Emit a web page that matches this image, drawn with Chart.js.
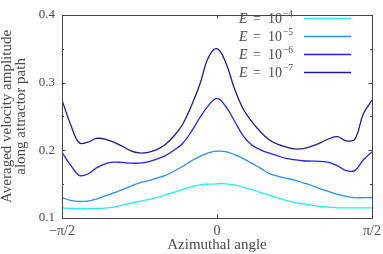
<!DOCTYPE html>
<html>
<head>
<meta charset="utf-8">
<script src="https://cdn.jsdelivr.net/npm/chart.js@4/dist/chart.umd.min.js"></script>
<style>
html,body{margin:0;padding:0;background:#fff;}
#wrap{width:383px;height:254px;position:relative;}
</style>
</head>
<body>
<div id="wrap"><canvas id="c" width="383" height="254"></canvas></div>
<script>
// Azimuthal angle in degrees (-90 = -pi/2, 90 = pi/2)
const angles = [-90,-85,-80,-75,-70,-65,-60,-55,-50,-45,-40,-35,-30,-25,-20,-15,-10,-5,0,5,10,15,20,25,30,35,40,45,50,55,60,65,70,75,80,85,90];
const seriesE4 = [0.115,0.114,0.1137,0.1137,0.114,0.1145,0.116,0.119,0.122,0.1245,0.127,0.130,0.134,0.138,0.142,0.146,0.149,0.150,0.1505,0.1505,0.149,0.1455,0.142,0.138,0.134,0.130,0.126,0.123,0.121,0.119,0.117,0.116,0.115,0.115,0.115,0.115,0.115];
const seriesE5 = [0.130,0.126,0.1245,0.125,0.128,0.1325,0.137,0.142,0.147,0.152,0.155,0.159,0.163,0.169,0.176,0.184,0.191,0.196,0.1986,0.198,0.194,0.188,0.181,0.174,0.166,0.162,0.159,0.156,0.152,0.148,0.143,0.139,0.135,0.132,0.130,0.130,0.130];
const seriesE6 = [0.197,0.178,0.163,0.165,0.174,0.180,0.1825,0.182,0.181,0.181,0.183,0.187,0.192,0.200,0.210,0.227,0.248,0.266,0.2765,0.265,0.244,0.222,0.208,0.201,0.196,0.192,0.188,0.186,0.1845,0.184,0.1835,0.182,0.177,0.170,0.170,0.186,0.1976];
const seriesE7 = [0.274,0.238,0.211,0.212,0.2175,0.2165,0.212,0.206,0.199,0.196,0.197,0.201,0.2085,0.221,0.238,0.265,0.297,0.337,0.350,0.330,0.292,0.262,0.243,0.228,0.216,0.209,0.205,0.202,0.2025,0.206,0.211,0.217,0.220,0.214,0.216,0.254,0.274];
const seriesExp = ['\u22124','\u22125','\u22126','\u22127'];
const seriesColors = ['#22eeee','#2a8ff0','#2424ee','#1c1c8c'];
const xTickValues = [-90,0,90];
const xTickLabels = ['\u2212\u03c0/2','0','\u03c0/2'];
const yTickValues = [0.1,0.2,0.3,0.4];
const yTickLabels = ['0.1','0.2','0.3','0.4'];
const yMinorValues = [0.15,0.25,0.35];

const FONT = '"Liberation Serif", "DejaVu Serif", serif';
const TXT = '#4a4a4a';
const AX = '#444444';

const allSeries = [seriesE4, seriesE5, seriesE6, seriesE7];
const datasets = allSeries.map((s, i) => ({
  label: 'E = 10^' + seriesExp[i],
  data: angles.map((a, j) => ({x: a, y: s[j]})),
  borderColor: seriesColors[i],
  borderWidth: 1.3,
  pointRadius: 0,
  tension: 0.4,
  fill: false
}));

const framePlugin = {
  id: 'frame',
  afterDraw(chart) {
    const ctx = chart.ctx;
    const a = chart.chartArea;
    const xs = chart.scales.x, ys = chart.scales.y;
    ctx.save();
    ctx.strokeStyle = AX;
    ctx.lineWidth = 1;
    ctx.strokeRect(Math.round(a.left) + 0.5, Math.round(a.top) + 0.5, Math.round(a.right - a.left), Math.round(a.bottom - a.top));
    ctx.beginPath();
    const major = 3.5, minor = 2;
    yTickValues.concat(yMinorValues).forEach(v => {
      const y = Math.round(ys.getPixelForValue(v)) + 0.5;
      const L = yMinorValues.includes(v) ? minor : major;
      ctx.moveTo(a.left, y); ctx.lineTo(a.left + L, y);
      ctx.moveTo(a.right, y); ctx.lineTo(a.right - L, y);
    });
    xTickValues.forEach(v => {
      const x = Math.round(xs.getPixelForValue(v)) + 0.5;
      ctx.moveTo(x, a.bottom); ctx.lineTo(x, a.bottom - major);
      ctx.moveTo(x, a.top); ctx.lineTo(x, a.top + major);
    });
    ctx.stroke();

    // legend (text first, then line sample)
    ctx.textBaseline = 'alphabetic';
    chart.data.datasets.forEach((ds, i) => {
      const cy = 18 + i * 18;
      const base = cy + 4.5;
      ctx.fillStyle = TXT;
      ctx.textAlign = 'left';
      ctx.font = 'italic 14px ' + FONT;
      ctx.fillText('E', 239, base);
      ctx.font = '14px ' + FONT;
      ctx.fillText('=', 253, base);
      ctx.fillText('10', 268, base);
      ctx.font = '9.5px ' + FONT;
      ctx.fillText(seriesExp[i], 283, base - 6);
      ctx.strokeStyle = ds.borderColor;
      ctx.lineWidth = 1.3;
      ctx.beginPath();
      ctx.moveTo(304, cy + 0.5); ctx.lineTo(351, cy + 0.5);
      ctx.stroke();
    });
    ctx.restore();
  }
};

new Chart(document.getElementById('c'), {
  type: 'line',
  data: { datasets },
  options: {
    responsive: false,
    animation: false,
    devicePixelRatio: 1,
    layout: { padding: { top: 6, right: 11, left: 0, bottom: 0 } },
    plugins: { legend: { display: false }, tooltip: { enabled: false } },
    scales: {
      x: {
        type: 'linear', min: -90, max: 90,
        afterBuildTicks(scale) { scale.ticks = xTickValues.map(v => ({value: v})); },
        afterFit(scale) { scale.height = 36; scale.paddingLeft = 0; scale.paddingRight = 0; },
        grid: { display: false, drawTicks: false },
        border: { display: false },
        ticks: {
          padding: 5, color: TXT, maxRotation: 0, autoSkip: false,
          font: { family: FONT, size: 14 },
          callback(v) { const k = xTickValues.indexOf(v); return k >= 0 ? xTickLabels[k] : ''; }
        },
        title: { display: true, text: 'Azimuthal angle', color: TXT, font: { family: FONT, size: 15 }, padding: { top: -1, bottom: 0 } }
      },
      y: {
        type: 'linear', min: 0.1, max: 0.4,
        afterBuildTicks(scale) { scale.ticks = yTickValues.map(v => ({value: v})); },
        afterFit(scale) { scale.width = 62; },
        grid: { display: false, drawTicks: false },
        border: { display: false },
        ticks: {
          padding: 7, color: TXT,
          font: { family: FONT, size: 13 },
          callback(v) { const k = yTickValues.findIndex(t => Math.abs(t - v) < 1e-9); return k >= 0 ? yTickLabels[k] : ''; }
        },
        title: { display: true, text: ['Averaged velocity amplitude', 'along attractor path'], color: TXT, font: { family: FONT, size: 15, lineHeight: 0.95 }, padding: { top: 0, bottom: 0 } }
      }
    }
  },
  plugins: [framePlugin]
});
</script>
</body>
</html>
